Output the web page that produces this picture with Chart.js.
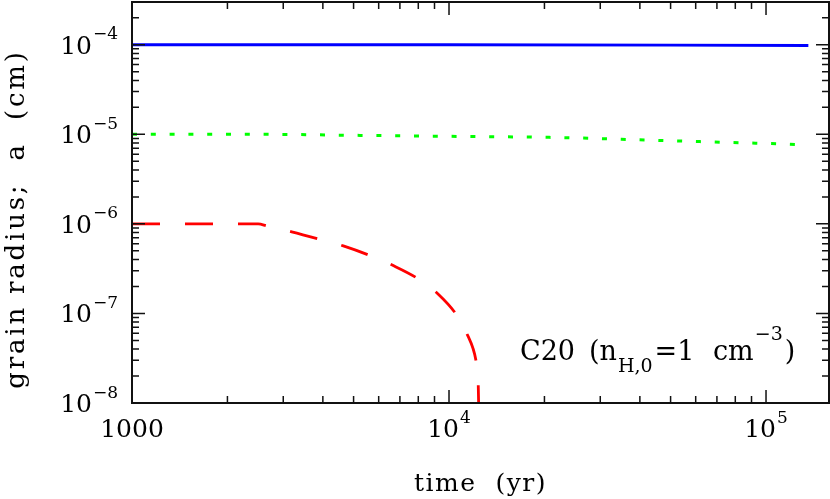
<!DOCTYPE html>
<html>
<head>
<meta charset="utf-8">
<script src="https://cdn.jsdelivr.net/npm/chart.js@4.4.1/dist/chart.umd.min.js"></script>
<style>
  html, body { margin: 0; padding: 0; background: #fff; }
  #wrap { width: 830px; height: 499px; position: relative; }
</style>
</head>
<body>
<div id="wrap"><canvas id="myChart"></canvas></div>
<script>
// grain radius (cm) vs time (yr)
const blueTime = [1000, 10000, 50000, 136000];
const blueRadius = [1e-4, 1e-4, 9.9e-5, 9.8e-5];

const greenTime = [1000, 2600, 5000, 10000, 23000, 35000, 52600, 69000, 104000, 119000, 136000];
const greenRadius = [1e-5, 1e-5, 9.74e-6, 9.5e-6, 9.18e-6, 8.8e-6, 8.42e-6, 8.2e-6, 7.87e-6, 7.73e-6, 7.58e-6];

const redTime = [1000, 2500, 2660, 3190, 3870, 4640, 5640, 6670, 8000, 9250, 10570, 11500, 12230, 12400, 12450];
const redRadius = [1e-6, 1e-6, 9.5e-7, 8.15e-7, 6.8e-7, 5.68e-7, 4.42e-7, 3.42e-7, 2.43e-7, 1.64e-7, 9.6e-8, 5.5e-8, 2.66e-8, 1e-8, 1e-9];

// tick labels
const xTickValues = [1000, 1e4, 1e5];
const xTickBase = ['1000', '10', '10'];
const xTickExp = ['', '4', '5'];
const yTickValues = [1e-4, 1e-5, 1e-6, 1e-7, 1e-8];
const yTickExp = ['\u22124', '\u22125', '\u22126', '\u22127', '\u22128'];

const serif = '"DejaVu Serif", "Liberation Serif", serif';

function pts(xs, ys) {
  return xs.map((t, i) => ({ x: t, y: ys[i] }));
}

// draw "base" with a raised exponent; align: 'right' | 'center'
function supLabel(ctx, base, exp, x, y, align) {
  ctx.font = '25px ' + serif;
  const w1 = ctx.measureText(base).width;
  ctx.font = '17px ' + serif;
  const w2 = exp ? ctx.measureText(exp).width + 1 : 0;
  let x0 = align === 'right' ? x - w1 - w2 : x - (w1 + w2) / 2;
  ctx.textAlign = 'left';
  ctx.textBaseline = 'alphabetic';
  ctx.font = '25px ' + serif;
  ctx.fillText(base, x0, y);
  if (exp) {
    ctx.font = '17px ' + serif;
    ctx.fillText(exp, x0 + w1 + 1, y - 14.5);
  }
}

const frame = {
  id: 'frame',
  afterDraw(chart) {
    const { ctx, chartArea: a, scales: { x, y } } = chart;
    ctx.save();
    ctx.strokeStyle = '#111';
    ctx.fillStyle = '#000';

    // inward ticks on all four sides
    ctx.lineWidth = 1.5;
    ctx.beginPath();
    for (let e = 3; e <= 5; e++) {
      for (let m = 1; m <= 9; m++) {
        const v = m * Math.pow(10, e);
        if (v < x.min || v > x.max) continue;
        const px = x.getPixelForValue(v);
        const len = m === 1 ? 13 : 7;
        ctx.moveTo(px, a.bottom); ctx.lineTo(px, a.bottom - len);
        ctx.moveTo(px, a.top); ctx.lineTo(px, a.top + len);
      }
    }
    for (let e = -8; e <= -4; e++) {
      for (let m = 1; m <= 9; m++) {
        const v = m * Math.pow(10, e);
        if (v < y.min * 0.999 || v > y.max) continue;
        const py = y.getPixelForValue(v);
        const len = m === 1 ? 13 : 7;
        ctx.moveTo(a.left, py); ctx.lineTo(a.left + len, py);
        ctx.moveTo(a.right, py); ctx.lineTo(a.right - len, py);
      }
    }
    ctx.stroke();

    ctx.lineWidth = 2;
    ctx.strokeRect(a.left, a.top, a.right - a.left, a.bottom - a.top);

    // tick labels
    yTickValues.forEach((v, i) => {
      const py = y.getPixelForValue(v);
      supLabel(ctx, '10', yTickExp[i], a.left - 14, py + 9, 'right');
    });
    xTickValues.forEach((v, i) => {
      const px = x.getPixelForValue(v);
      supLabel(ctx, xTickBase[i], xTickExp[i], px, a.bottom + 34, 'center');
    });

    // axis titles
    ctx.font = '25px ' + serif;
    ctx.letterSpacing = '1.5px';
    ctx.textAlign = 'center';
    ctx.fillText('time  (yr)', (a.left + a.right) / 2, 491);

    ctx.save();
    ctx.translate(24, 219);
    ctx.rotate(-Math.PI / 2);
    ctx.font = '26px ' + serif;
    ctx.letterSpacing = '2.8px';
    ctx.fillText('grain radius;  a  (cm)', 0, 0);
    ctx.restore();
    ctx.letterSpacing = '0px';

    // annotation: C20 (n_H,0 = 1 cm^-3)
    ctx.textAlign = 'left';
    const base = 360;
    let cx = 520;
    const put = (txt, size, dy, after, at) => {
      if (at !== undefined) cx = at;
      ctx.font = size + 'px ' + serif;
      ctx.fillText(txt, cx, base + dy);
      cx += ctx.measureText(txt).width + after;
    };
    put('C20', 27, 0, 0, 520);
    put('(n', 27, 0, 1, 589);
    put('H,0', 19, 11.5, 2);
    put('=1', 27, 0, 0);
    put('cm', 27, 0, 1, 713);
    put('\u22123', 19, -20, 2);
    put(')', 27, 0, 0);

    ctx.restore();
  }
};

const ctx = document.getElementById('myChart');

new Chart(ctx, {
  type: 'line',
  data: {
    datasets: [{
      label: 'a = 1e-4 cm',
      data: pts(blueTime, blueRadius),
      borderColor: '#0000ff',
      borderWidth: 2.8,
      pointRadius: 0,
      tension: 0
    }, {
      label: 'a = 1e-5 cm',
      data: pts(greenTime, greenRadius),
      borderColor: '#00ff00',
      borderWidth: 3,
      borderDash: [5, 13.8],
      pointRadius: 0,
      cubicInterpolationMode: 'monotone'
    }, {
      label: 'a = 1e-6 cm',
      data: pts(redTime, redRadius),
      borderColor: '#ff0000',
      borderWidth: 2.8,
      borderDash: [28, 25],
      pointRadius: 0,
      cubicInterpolationMode: 'monotone'
    }]
  },
  options: {
    responsive: true,
    maintainAspectRatio: false,
    animation: false,
    layout: { padding: { left: 132, top: 2, right: 1, bottom: 96 } },
    plugins: {
      legend: { display: false },
      tooltip: { enabled: false }
    },
    scales: {
      x: { type: 'logarithmic', min: 1000, max: 158000, bounds: 'data', display: false },
      y: { type: 'logarithmic', min: 1e-8, max: 3e-4, bounds: 'data', display: false }
    }
  },
  plugins: [frame]
});
</script>
</body>
</html>
